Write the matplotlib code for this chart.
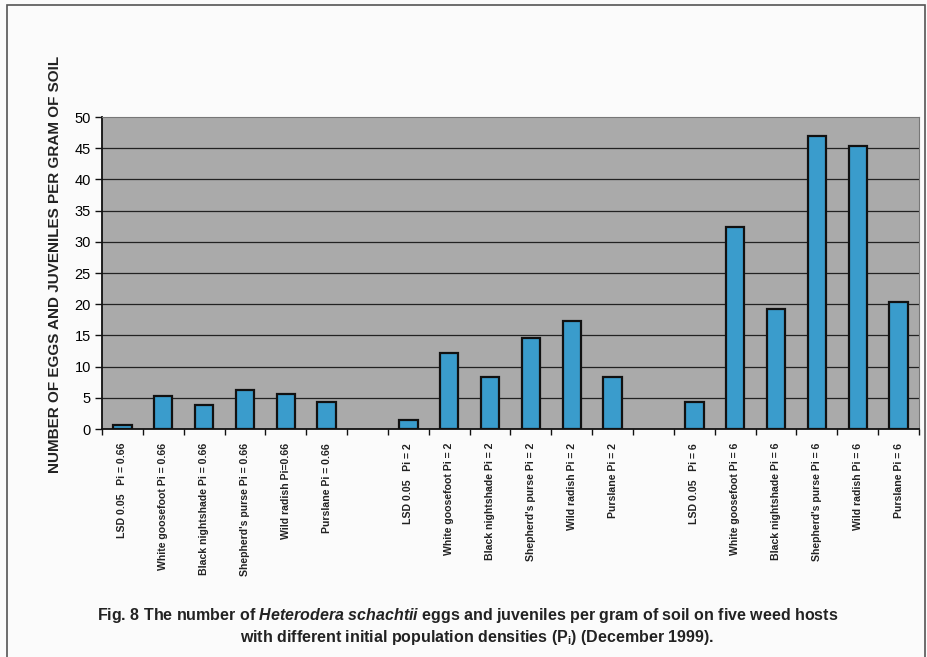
import matplotlib
matplotlib.use("Agg")
import matplotlib.pyplot as plt
import numpy as np
from matplotlib.patches import Rectangle

plt.rcParams['font.family'] = ['Liberation Sans', 'DejaVu Sans']
plt.rcParams['mathtext.fontset'] = 'custom'
plt.rcParams['mathtext.rm'] = 'Liberation Sans:bold'
plt.rcParams['mathtext.it'] = 'Liberation Sans:italic:bold'
plt.rcParams['mathtext.bf'] = 'Liberation Sans:bold'

# ---- data ----
labels = [
    "LSD 0.05   Pi = 0.66", "White goosefoot Pi = 0.66", "Black nightshade Pi = 0.66",
    "Shepherd's purse Pi = 0.66", "Wild radish Pi=0.66", "Purslane Pi = 0.66", "",
    "LSD 0.05   Pi = 2", "White goosefoot Pi = 2", "Black nightshade Pi = 2",
    "Shepherd's purse Pi = 2", "Wild radish Pi = 2", "Purslane Pi = 2", "",
    "LSD 0.05   Pi = 6", "White goosefoot Pi = 6", "Black nightshade Pi = 6",
    "Shepherd's purse Pi = 6", "Wild radish Pi = 6", "Purslane Pi = 6",
]
values = [
    0.7, 5.3, 3.85, 6.25, 5.6, 4.3, np.nan,
    1.45, 12.2, 8.3, 14.6, 17.3, 8.3, np.nan,
    4.3, 32.4, 19.3, 47.0, 45.4, 20.3,
]
y_ticks = [0, 5, 10, 15, 20, 25, 30, 35, 40, 45, 50]
y_label = "NUMBER OF EGGS AND JUVENILES PER GRAM OF SOIL"
caption1 = r"Fig. 8 The number of $\mathit{Heterodera\ schachtii}$ eggs and juveniles per gram of soil on five weed hosts"
caption2 = r"with different initial population densities (P$_\mathrm{i}$) (December 1999)."

fig = plt.figure(figsize=(9.27, 6.57), dpi=100, facecolor='#fbfbfb')
ax = fig.add_axes([0.110, 0.347, 0.8814, 0.4749])
ax.set_facecolor('#aaaaaa')

x = np.arange(len(labels))
vals = np.array(values, dtype=float)
mask = ~np.isnan(vals)
ax.bar(x[mask], vals[mask], width=0.45, color='#3a9ccc', edgecolor='#111111',
       linewidth=1.6, zorder=3)

ax.set_xlim(-0.5, len(labels) - 0.5)
ax.set_ylim(0, 50)
ax.set_yticks(y_ticks)
ax.set_yticklabels([str(v) for v in y_ticks], fontsize=10.5)
for yv in y_ticks[1:-1]:
    ax.axhline(yv, color='#222222', linewidth=0.9, zorder=1)

ax.set_xticks(np.arange(-0.5, len(labels)))
ax.set_xticklabels([])
ax.set_xticks(x, minor=True)
ax.set_xticklabels(labels, minor=True, rotation=90, fontsize=7.6,
                   fontweight='bold', va='top', ha='center', color='#222222')
ax.tick_params(axis='x', which='major', length=4, width=1, color='#111111')
ax.tick_params(axis='x', which='minor', length=0, pad=10)
ax.tick_params(axis='y', length=5, width=1, color='#111111', pad=3)

for s in ['left', 'bottom']:
    ax.spines[s].set_color('#111111')
    ax.spines[s].set_linewidth(1.3)
for s in ['top', 'right']:
    ax.spines[s].set_color('#777777')
    ax.spines[s].set_linewidth(0.8)

fig.text(0.059, 0.597, y_label, rotation=90, fontsize=11, fontweight='bold',
         ha='center', va='center', color='#222222')

fig.text(0.504, 0.063, caption1, fontsize=11.5, fontweight='bold',
         ha='center', va='center', color='#222222')
fig.text(0.515, 0.030, caption2, fontsize=11.5, fontweight='bold',
         ha='center', va='center', color='#222222')

# outer frame
fig.add_artist(Rectangle((0.0075, -0.05), 0.99, 1.042, transform=fig.transFigure,
                         fill=False, edgecolor='#555555', linewidth=1.2))

fig.savefig('out.png', dpi=100, facecolor=fig.get_facecolor())
